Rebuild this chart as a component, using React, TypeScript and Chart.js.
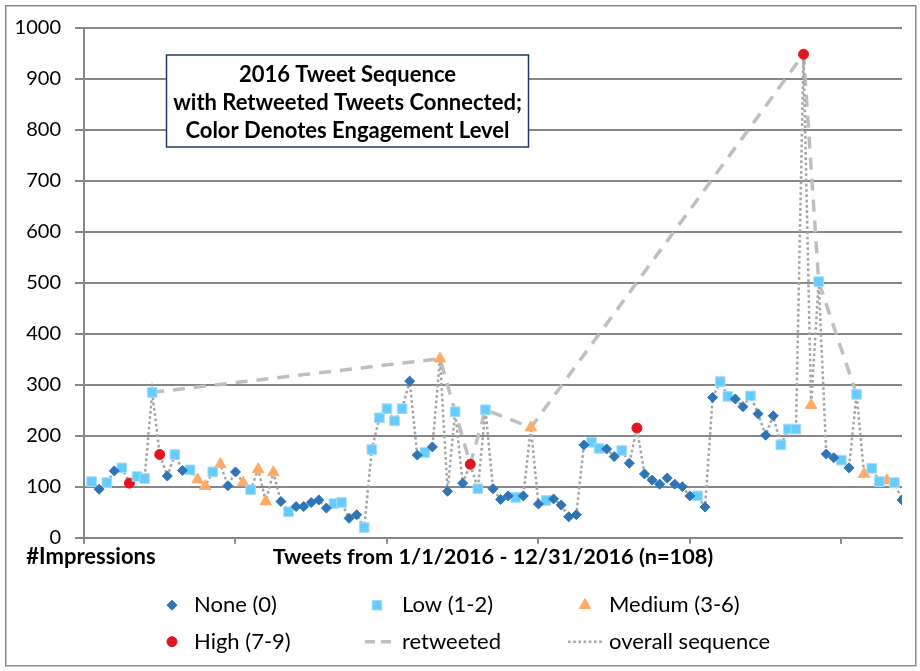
import React, { useEffect, useRef } from 'react';
import { Chart, registerables } from 'chart.js';

Chart.register(...registerables);

// ---- data -------------------------------------------------------------
// impressions of each of the 108 tweets, in sequence
const impressions = [
  110, 95, 108, 131, 137, 107, 120, 116, 285, 163,
  121, 163, 132, 133, 114, 101, 129, 144, 102, 129,
  108, 94, 134, 71, 128, 71, 51, 61, 61, 69,
  74, 58, 67, 69, 38, 45, 20, 173, 235, 253,
  229, 253, 307, 162, 167, 178, 351, 91, 247, 107,
  144, 96, 251, 96, 75, 82, 79, 82, 216, 66,
  73, 76, 64, 41, 45, 182, 187, 175, 174, 159,
  171, 146, 215, 125, 113, 105, 117, 105, 100, 82,
  82, 60, 275, 306, 277, 272, 257, 278, 243, 201,
  239, 182, 213, 213, 948, 260, 502, 164, 157, 152,
  137, 281, 125, 136, 110, 112, 108, 74,
];

// engagement level of each tweet: N = none, L = low, M = medium, H = high
const engagement = [
  'L', 'N', 'L', 'N', 'L', 'H', 'L', 'L', 'L', 'H',
  'N', 'L', 'N', 'L', 'M', 'M', 'L', 'M', 'N', 'N',
  'M', 'L', 'M', 'M', 'M', 'N', 'L', 'N', 'N', 'N',
  'N', 'N', 'L', 'L', 'N', 'N', 'L', 'L', 'L', 'L',
  'L', 'L', 'N', 'N', 'L', 'N', 'M', 'N', 'L', 'N',
  'H', 'L', 'L', 'N', 'N', 'N', 'L', 'N', 'M', 'N',
  'L', 'N', 'N', 'N', 'N', 'N', 'L', 'L', 'N', 'N',
  'L', 'N', 'H', 'N', 'N', 'N', 'N', 'N', 'N', 'N',
  'L', 'N', 'N', 'L', 'L', 'N', 'N', 'L', 'N', 'N',
  'N', 'L', 'L', 'L', 'H', 'M', 'L', 'N', 'N', 'L',
  'N', 'L', 'M', 'L', 'L', 'M', 'L', 'N',
];

// positions (0-based) of the tweets that were retweeted
const retweetedTweets = [8, 46, 50, 52, 58, 94, 96, 101];

const levelCodes = ['N', 'L', 'M', 'H'];
const levelLabels = ['None (0)', 'Low (1-2)', 'Medium (3-6)', 'High (7-9)'];
const retweetLabel = 'retweeted';
const sequenceLabel = 'overall sequence';

const yMin = 0;
const yMax = 1000;
const yStep = 100;
const xMin = 0;
const xMax = 108;
const xTickValues = [0, 20, 40, 60, 80, 100];

const titleLines = [
  '2016 Tweet Sequence',
  'with Retweeted Tweets Connected;',
  'Color Denotes Engagement Level',
];
const xAxisTitle = 'Tweets from 1/1/2016 - 12/31/2016 (n=108)';
const yAxisTitle = '#Impressions';

// ---- styles -----------------------------------------------------------
const FONT = 'Lato, "Open Sans", sans-serif';
const GRID = '#878787';

const levelStyles: Record<string, any> = {
  N: { pointStyle: 'rectRot', radius: 5, bg: '#2E75B6', border: '#2E75B6', bw: 1 },
  L: { pointStyle: 'rect', radius: 6.8, bg: '#66CCFF', border: '#A6DDF4', bw: 1 },
  M: { pointStyle: 'triangle', radius: 6.6, bg: '#FFAA66', border: '#FFAA66', bw: 1 },
  H: { pointStyle: 'circle', radius: 5, bg: '#E0151D', border: '#E0151D', bw: 1 },
};

const RETWEET_COLOR = '#BFBFBF';
const SEQ_COLOR = '#A6A6A6';

function drawMarker(ctx: CanvasRenderingContext2D, code: string, x: number, y: number) {
  const s = levelStyles[code];
  ctx.save();
  ctx.fillStyle = s.bg;
  ctx.strokeStyle = s.border;
  ctx.lineWidth = s.bw;
  ctx.beginPath();
  const r = s.radius;
  if (code === 'N') {
    ctx.moveTo(x, y - r); ctx.lineTo(x + r, y); ctx.lineTo(x, y + r); ctx.lineTo(x - r, y);
    ctx.closePath();
  } else if (code === 'L') {
    const h = r * Math.SQRT1_2;
    ctx.rect(x - h, y - h, 2 * h, 2 * h);
  } else if (code === 'M') {
    const a = Math.PI * 2 / 3;
    ctx.moveTo(x, y - r);
    ctx.lineTo(x + Math.sin(a) * r, y - Math.cos(a) * r);
    ctx.lineTo(x + Math.sin(2 * a) * r, y - Math.cos(2 * a) * r);
    ctx.closePath();
  } else {
    ctx.arc(x, y, r, 0, Math.PI * 2);
  }
  ctx.fill();
  ctx.stroke();
  ctx.restore();
}

const decorPlugin = {
  id: 'decor',
  afterDraw(chart: any) {
    const ctx: CanvasRenderingContext2D = chart.ctx;
    const area = chart.chartArea;
    ctx.save();

    // outer frame
    ctx.strokeStyle = '#8C8C8C';
    ctx.lineWidth = 1.5;
    ctx.strokeRect(5.75, 5.75, 910, 660);

    // title box
    const bx = 166.5, by = 55, bw = 362, bh = 92;
    ctx.fillStyle = '#FFFFFF';
    ctx.fillRect(bx, by, bw, bh);
    ctx.strokeStyle = '#1F3864';
    ctx.lineWidth = 1.5;
    ctx.strokeRect(bx, by, bw, bh);
    ctx.fillStyle = '#000000';
    ctx.font = `bold 22px ${FONT}`;
    ctx.textAlign = 'center';
    ctx.textBaseline = 'middle';
    titleLines.forEach((line, i) => {
      ctx.fillText(line, bx + bw / 2, by + 19.5 + i * 28);
    });

    // axis titles
    const titleY = area.bottom + 19;
    ctx.font = `bold 21.7px ${FONT}`;
    ctx.fillText(xAxisTitle, (area.left + area.right) / 2, titleY);
    ctx.font = `bold 22px ${FONT}`;
    ctx.fillText(yAxisTitle, 91, titleY);

    // legend
    ctx.font = `22px ${FONT}`;
    ctx.textAlign = 'left';
    const colText = [194, 402, 609];
    const colSym = [172, 377, 585];
    const rows = [area.bottom + 67.5, area.bottom + 104];
    const items: any[] = [
      { kind: 'marker', code: 'N', label: levelLabels[0] },
      { kind: 'marker', code: 'L', label: levelLabels[1] },
      { kind: 'marker', code: 'M', label: levelLabels[2] },
      { kind: 'marker', code: 'H', label: levelLabels[3] },
      { kind: 'dash', label: retweetLabel },
      { kind: 'dot', label: sequenceLabel },
    ];
    items.forEach((it, i) => {
      const col = i % 3;
      const y = rows[Math.floor(i / 3)];
      const sx = colSym[col];
      if (it.kind === 'marker') {
        drawMarker(ctx, it.code, sx, y);
      } else if (it.kind === 'dash') {
        ctx.save();
        ctx.strokeStyle = RETWEET_COLOR;
        ctx.lineWidth = 3.5;
        ctx.setLineDash([10, 6]);
        ctx.beginPath();
        ctx.moveTo(365, y); ctx.lineTo(391, y);
        ctx.stroke();
        ctx.restore();
      } else {
        ctx.save();
        ctx.strokeStyle = SEQ_COLOR;
        ctx.lineWidth = 2.5;
        ctx.setLineDash([2.6, 2.6]);
        ctx.beginPath();
        ctx.moveTo(568, y); ctx.lineTo(604, y);
        ctx.stroke();
        ctx.restore();
      }
      ctx.fillStyle = '#000000';
      ctx.fillText(it.label, colText[col], y);
    });

    ctx.restore();
  },
};

export default function App() {
  const canvasRef = useRef<HTMLCanvasElement | null>(null);

  useEffect(() => {
    if (!canvasRef.current) return;

    const markerSets = levelCodes.map((code, k) => {
      const s = levelStyles[code];
      const pts = impressions
        .map((v, i) => ({ x: i + 1, y: v, c: engagement[i] }))
        .filter((p) => p.c === code)
        .map((p) => ({ x: p.x, y: p.y }));
      return {
        label: levelLabels[k],
        data: pts,
        showLine: false,
        pointStyle: s.pointStyle,
        pointRadius: s.radius,
        pointBackgroundColor: s.bg,
        pointBorderColor: s.border,
        pointBorderWidth: s.bw,
        order: 0,
      };
    });

    const retweetSet = {
      label: retweetLabel,
      data: retweetedTweets.map((i) => ({ x: i + 1, y: impressions[i] })),
      borderColor: RETWEET_COLOR,
      borderWidth: 3.5,
      borderDash: [12, 9],
      pointRadius: 0,
      fill: false,
      tension: 0,
      order: 2,
    };

    const sequenceSet = {
      label: sequenceLabel,
      data: impressions.map((v, i) => ({ x: i + 1, y: v })),
      borderColor: SEQ_COLOR,
      borderWidth: 2.5,
      borderDash: [2.7, 2.6],
      pointRadius: 0,
      fill: false,
      tension: 0,
      order: 1,
    };

    const chart = new Chart(canvasRef.current, {
      type: 'line',
      data: { datasets: [...markerSets, sequenceSet, retweetSet] as any },
      options: {
        responsive: false,
        maintainAspectRatio: false,
        animation: false,
        devicePixelRatio: 1,
        layout: { padding: { left: 0, right: 18, top: 27.7, bottom: 0 } },
        plugins: {
          legend: { display: false },
          tooltip: { enabled: false },
          title: { display: false },
        },
        scales: {
          x: {
            type: 'linear',
            min: xMin,
            max: xMax,
            afterBuildTicks: (scale: any) => {
              scale.ticks = xTickValues.map((v) => ({ value: v }));
            },
            afterFit: (scale: any) => {
              scale.height = 671 - 537.7;
            },
            ticks: { display: false },
            grid: {
              drawOnChartArea: false,
              drawTicks: true,
              tickLength: 6,
              color: GRID,
              lineWidth: 2,
            },
            border: { display: true, color: GRID, width: 2 },
          },
          y: {
            min: yMin,
            max: yMax,
            ticks: {
              stepSize: yStep,
              color: '#000000',
              font: { family: FONT, size: 20 },
              padding: 14,
              callback: (v: any) => String(v),
            },
            afterFit: (scale: any) => {
              scale.width = 84;
            },
            grid: { color: GRID, lineWidth: 2, tickLength: 9 },
            border: { display: true, color: GRID, width: 2 },
          },
        },
      } as any,
      plugins: [decorPlugin],
    });

    return () => chart.destroy();
  }, []);

  return (
    <div style={{ position: 'absolute', left: 0, top: 0, width: 920, height: 671, background: '#fff' }}>
      <canvas ref={canvasRef} width={920} height={671} style={{ display: 'block' }} />
    </div>
  );
}
